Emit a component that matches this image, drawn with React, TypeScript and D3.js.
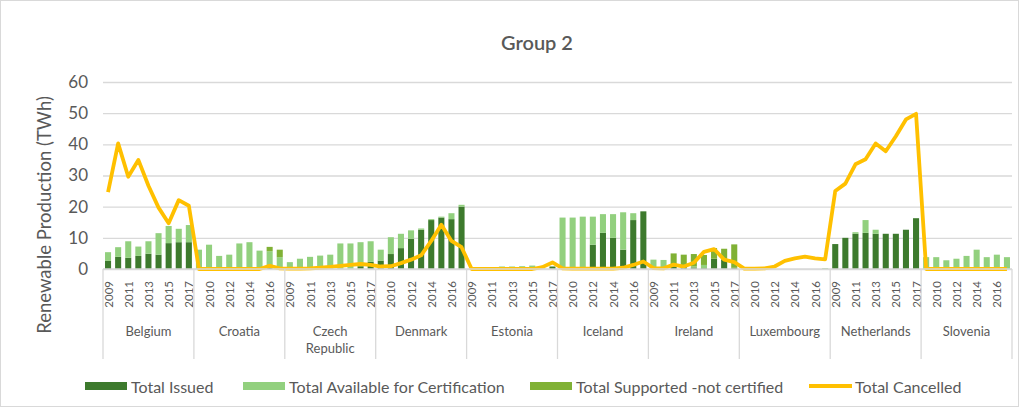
import { useEffect, useRef } from "react";
import * as d3 from "d3";

const countries = ["Belgium", "Croatia", "Czech Republic", "Denmark", "Estonia", "Iceland", "Ireland", "Luxembourg", "Netherlands", "Slovenia"];
const years = ["2009", "2010", "2011", "2012", "2013", "2014", "2015", "2016", "2017"];
const yTicks = [0, 10, 20, 30, 40, 50, 60];

// one row per country, 2009..2017
const totalIssued = [
    [2.6, 3.9, 3.6, 4.2, 4.9, 4.6, 8.3, 8.6, 8.6],
    [0, 0, 0, 0, 0, 0, 0, 1.1, 0],
    [0, 0, 0, 0, 0, 0, 0, 0.9, 2.3],
    [2.7, 4.8, 6.7, 9.7, 12.6, 15.7, 16.5, 16.0, 20.0],
    [0, 0, 0, 0, 0, 0, 0, 0, 0.8],
    [0, 0, 0, 7.8, 11.6, 10.0, 6.2, 15.7, 18.5],
    [0, 0, 0.8, 0.6, 0.5, 0.3, 3.3, 2.9, 0.4],
    [0, 0, 0, 0, 0, 0, 0, 0, 0],
    [8.0, 10.0, 11.3, 11.6, 11.3, 11.3, 11.3, 12.6, 16.3],
    [0, 0, 0, 0, 0, 0, 0, 0, 0],
];
const totalAvailable = [
    [2.8, 3.1, 5.3, 3.0, 4.0, 6.9, 5.5, 4.3, 5.5],
    [6.2, 7.8, 4.2, 4.6, 8.2, 8.6, 5.9, 4.6, 3.8],
    [2.2, 3.3, 3.9, 4.3, 4.6, 8.2, 8.2, 7.7, 6.6],
    [3.5, 5.4, 4.6, 2.7, 0.4, 0.3, 0.3, 1.9, 0.6],
    [0, 0, 0.6, 0.8, 0.8, 0.9, 1.1, 0.2, 0],
    [16.5, 16.5, 16.8, 9.0, 6.0, 7.6, 12.0, 2.2, 0],
    [3.0, 2.9, 0, 0, 0.3, 1.0, 0, 0, 0],
    [0, 0, 0, 0, 0, 0, 0, 0, 0.3],
    [0, 0, 0.5, 4.1, 1.3, 0, 0, 0, 0],
    [3.8, 3.8, 2.8, 3.3, 4.2, 6.2, 3.8, 4.6, 3.8],
];
const totalSupported = [
    [0, 0, 0, 0, 0, 0, 0, 0, 0],
    [0, 0, 0, 0, 0, 0, 0, 1.4, 2.4],
    [0, 0, 0, 0, 0, 0, 0, 0, 0],
    [0, 0, 0, 0, 0, 0, 0, 0, 0],
    [0, 0, 0, 0, 0, 0, 0, 0, 0],
    [0, 0, 0, 0, 0, 0, 0, 0, 0],
    [0, 0, 4.2, 4.0, 4.0, 3.2, 3.4, 3.6, 7.5],
    [0, 0, 0, 0, 0, 0, 0, 0, 0],
    [0, 0, 0, 0, 0, 0, 0, 0, 0],
    [0, 0, 0, 0, 0, 0, 0, 0, 0],
];
const totalCancelled = [
    [24.7, 40.3, 29.6, 35.0, 26.7, 19.7, 14.7, 22.1, 20.3],
    [0, 0, 0, 0, 0, 0, 0, 1.0, 0.2],
    [0.1, 0.1, 0.2, 0.4, 0.7, 1.0, 1.3, 1.6, 1.3],
    [0.8, 0.9, 1.9, 3.0, 4.4, 9.0, 14.2, 9.0, 7.0],
    [0, 0, 0, 0, 0, 0, 0, 0.6, 2.1],
    [0.2, 0.1, 0.1, 0.1, 0.1, 0.1, 0.4, 1.3, 2.4],
    [0.3, 0.2, 1.4, 0.8, 2.0, 5.5, 6.4, 3.0, 2.2],
    [0.1, 0.1, 0.2, 0.8, 2.6, 3.4, 4.0, 3.4, 3.1],
    [25.0, 27.4, 33.6, 35.2, 40.3, 37.8, 42.6, 48.0, 49.8],
    [0, 0, 0, 0, 0, 0, 0, 0, 0],
];

const seriesNames = ["Total Issued", "Total Available for Certification", "Total Supported -not certified", "Total Cancelled"];
const colors = ["#3d7a2d", "#92d07e", "#80b135", "#ffc000"];

export default function App() {
    const svgRef = useRef(null);

    useEffect(() => {
        const svg = d3.select(svgRef.current);
        svg.selectAll("*").remove();

        const width = 1022;
        const height = 408;
        const margin = { top: 82, right: 10, bottom: 139, left: 103 };
        const font = "Lato, 'Open Sans', sans-serif";
        const textColor = "#595959";

        // flatten to one row per country-year
        const rows = countries.flatMap((c, ci) =>
            years.map((yr, yi) => ({
                key: `${ci}-${yi}`,
                country: c,
                year: yr,
                issued: totalIssued[ci][yi],
                available: totalAvailable[ci][yi],
                supported: totalSupported[ci][yi],
                cancelled: totalCancelled[ci][yi],
            }))
        );

        const x = d3.scaleBand()
            .domain(rows.map((d) => d.key))
            .range([margin.left, width - margin.right])
            .paddingInner(0.4)
            .paddingOuter(0.2);

        const y = d3.scaleLinear()
            .domain([0, 60])
            .range([height - margin.bottom, margin.top]);

        const step = x.step();
        const groupWidth = step * years.length;
        const x0 = x.range()[0];

        svg.append("rect")
            .attr("x", 0.5).attr("y", 0.5)
            .attr("width", width - 4).attr("height", height - 2)
            .attr("fill", "#fff")
            .attr("stroke", "#d9d9d9");

        // Title
        svg.append("text")
            .attr("x", 537)
            .attr("y", 50)
            .attr("text-anchor", "middle")
            .attr("font-family", font)
            .attr("font-size", 20)
            .attr("font-weight", 600)
            .attr("fill", textColor)
            .text("Group 2");

        // Gridlines + y ticks
        const yAxis = svg.append("g")
            .attr("transform", `translate(${margin.left},0)`)
            .call(d3.axisLeft(y).tickValues(yTicks).tickSize(-(width - margin.right - margin.left)).tickPadding(15));
        yAxis.select(".domain").remove();
        yAxis.selectAll("line").attr("stroke", "#d9d9d9").attr("stroke-width", 1.3);
        yAxis.selectAll("text")
            .attr("fill", textColor)
            .attr("font-family", font)
            .attr("font-size", 17);

        svg.append("text")
            .attr("transform", `translate(51,215) rotate(-90)`)
            .attr("text-anchor", "middle")
            .attr("font-family", font)
            .attr("font-size", 18.5)
            .attr("fill", textColor)
            .text("Renewable Production (TWh)");

        // Stacked bars
        const stack = d3.stack().keys(["issued", "available", "supported"]);
        const stacked = stack(rows);
        svg.append("g")
            .selectAll("g")
            .data(stacked)
            .join("g")
            .attr("fill", (d, i) => colors[i])
            .selectAll("rect")
            .data((d) => d)
            .join("rect")
            .attr("x", (d) => x(d.data.key))
            .attr("width", x.bandwidth())
            .attr("y", (d) => y(d[1]))
            .attr("height", (d) => Math.max(0, y(d[0]) - y(d[1])));

        // Cancelled line
        const line = d3.line()
            .x((d) => x(d.key) + x.bandwidth() / 2)
            .y((d) => y(d.cancelled));
        svg.append("path")
            .datum(rows)
            .attr("fill", "none")
            .attr("stroke", colors[3])
            .attr("stroke-width", 3.8)
            .attr("stroke-linejoin", "round")
            .attr("d", line);

        // Category axis: years (every other) + country groups
        const axisY = y(0);
        svg.append("line")
            .attr("x1", margin.left).attr("x2", width - margin.right)
            .attr("y1", axisY).attr("y2", axisY)
            .attr("stroke", "#d9d9d9").attr("stroke-width", 1.3);

        svg.append("g")
            .selectAll("text")
            .data(rows.filter((d, i) => i % 2 === 0))
            .join("text")
            .attr("transform", (d) => `translate(${x(d.key) + x.bandwidth() / 2},${axisY + 12}) rotate(-90)`)
            .attr("text-anchor", "end")
            .attr("dominant-baseline", "central")
            .attr("font-family", font)
            .attr("font-size", 11.5)
            .attr("fill", textColor)
            .text((d) => d.year);

        svg.append("g")
            .selectAll("line")
            .data(d3.range(countries.length + 1))
            .join("line")
            .attr("x1", (i) => x0 + i * groupWidth)
            .attr("x2", (i) => x0 + i * groupWidth)
            .attr("y1", axisY)
            .attr("y2", axisY + 90)
            .attr("stroke", "#d9d9d9")
            .attr("stroke-width", 1.3);

        const labels = svg.append("g")
            .selectAll("text")
            .data(countries)
            .join("text")
            .attr("x", (d, i) => x0 + (i + 0.5) * groupWidth)
            .attr("y", axisY + 67)
            .attr("text-anchor", "middle")
            .attr("font-family", font)
            .attr("font-size", 13)
            .attr("fill", textColor);
        labels.each(function (d) {
            const parts = d.split(" ");
            d3.select(this).selectAll("tspan")
                .data(parts)
                .join("tspan")
                .attr("x", d3.select(this).attr("x"))
                .attr("dy", (p, j) => (j === 0 ? 0 : 17))
                .text((p) => p);
        });

        // Legend
        const legendX = [85, 243, 530, 809];
        const legendY = 386;
        const legend = svg.append("g")
            .selectAll("g")
            .data(seriesNames)
            .join("g")
            .attr("transform", (d, i) => `translate(${legendX[i]},${legendY})`);
        legend.each(function (d, i) {
            const g = d3.select(this);
            if (i < 3) {
                g.append("rect").attr("x", 0).attr("y", -4).attr("width", 42).attr("height", 8).attr("fill", colors[i]);
            } else {
                g.append("line").attr("x1", 0).attr("x2", 43).attr("stroke", colors[i]).attr("stroke-width", 3.8);
            }
            g.append("text")
                .attr("x", 46)
                .attr("dominant-baseline", "central")
                .attr("font-family", font)
                .attr("font-size", 16)
                .attr("fill", textColor)
                .text(d);
        });
    }, []);

    return (
        <svg
            ref={svgRef}
            width={1022}
            height={408}
            style={{ position: "absolute", left: 0, top: 0, background: "#fff" }}
        />
    );
}
